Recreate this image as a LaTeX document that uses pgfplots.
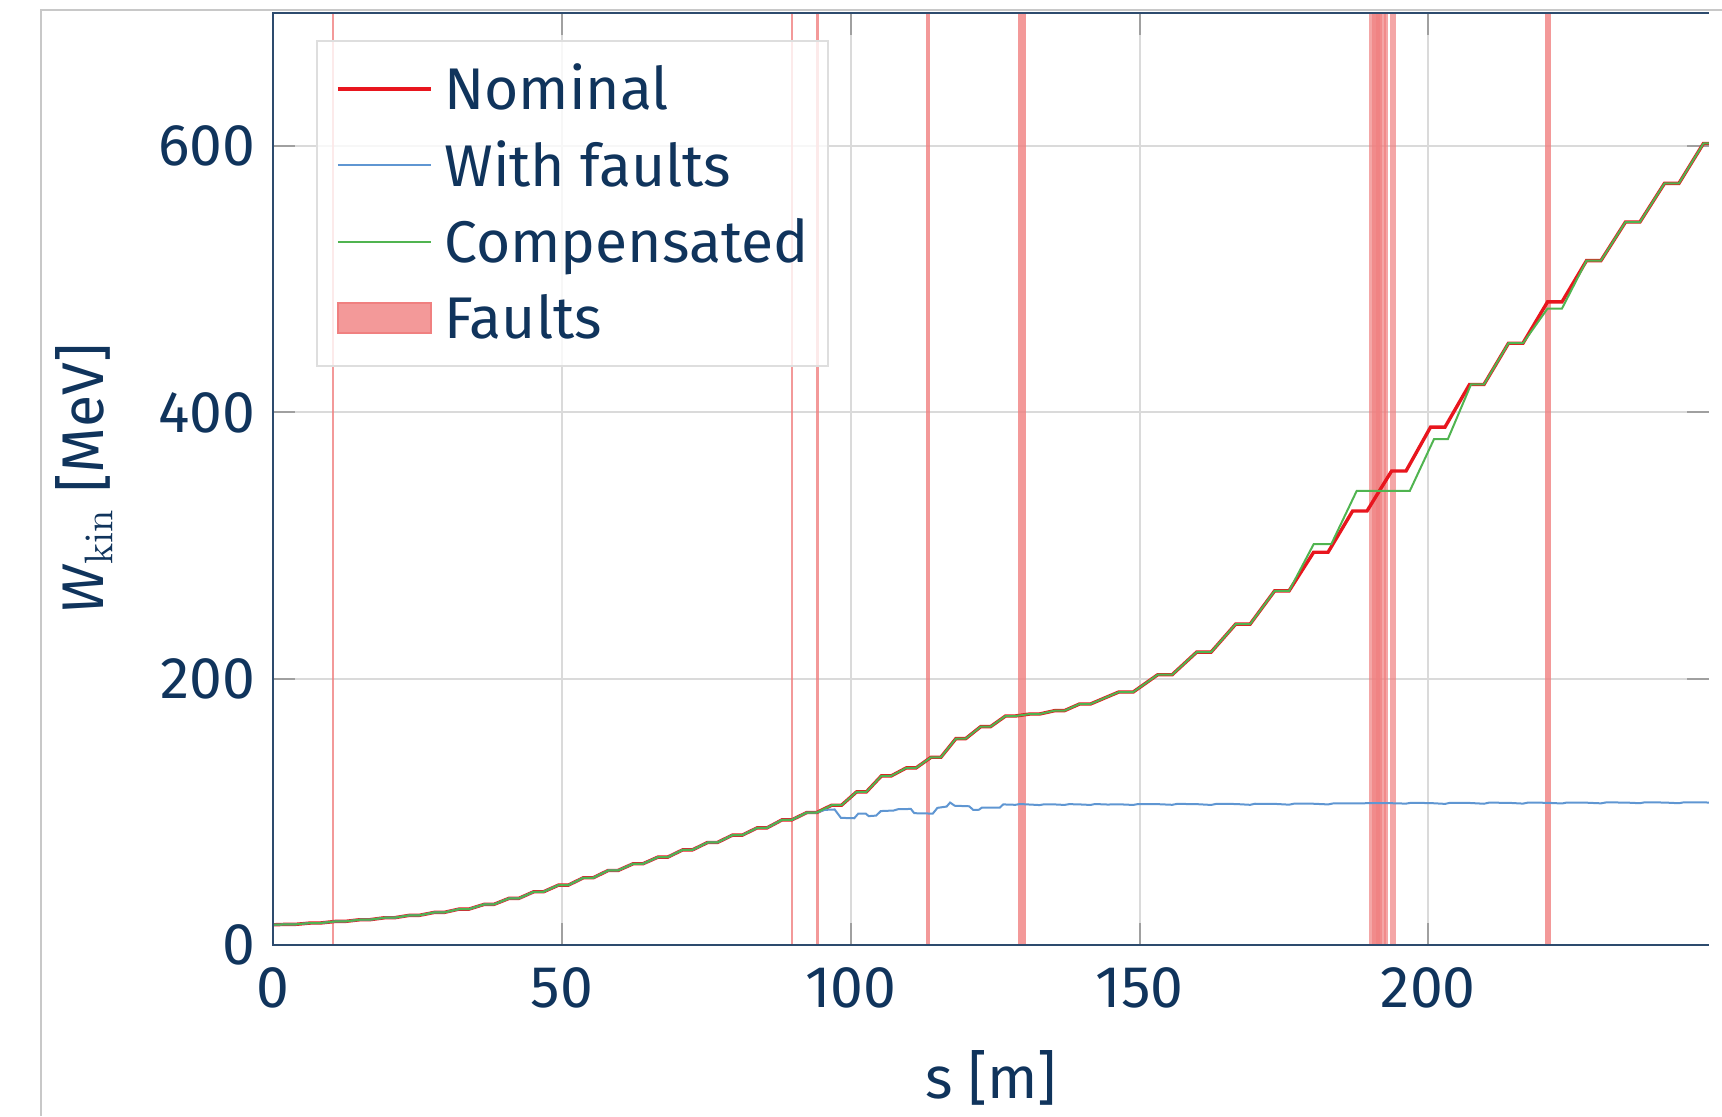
\documentclass[border=0pt]{standalone}
\usepackage[no-math]{fontspec}
\setmainfont{Fira Sans}
\usepackage{pgfplots}
\pgfplotsset{compat=1.18}

\definecolor{navy}{RGB}{16,52,92}
\definecolor{axisc}{RGB}{45,75,110}
\definecolor{gridc}{RGB}{218,218,218}
\definecolor{tickc}{RGB}{160,160,160}
\definecolor{legc}{RGB}{222,222,222}
\definecolor{framec}{RGB}{200,200,200}
\definecolor{nomc}{RGB}{232,22,30}
\definecolor{withc}{RGB}{95,150,210}
\definecolor{compc}{RGB}{80,180,80}
\definecolor{faultc}{RGB}{240,128,128}

\begin{document}
\begin{tikzpicture}
\begin{axis}[
name=ax, at={(0,0)}, anchor=south west,
scale only axis, width=358.9pt, height=233pt,
xmin=0, xmax=248.6, ymin=0, ymax=700,
xtick={0,50,100,150,200}, ytick={0,200,400,600},
axis line style={draw=none},
grid=major, major grid style={draw=gridc, line width=0.5pt},
major tick length=5.5pt, tick align=inside,
tick style={draw=tickc, line width=0.5pt},
/pgf/number format/assume math mode=true,
tick label style={font=\fontsize{14.7}{17}\selectfont, text=navy},
xticklabel style={yshift=-2.1pt},
yticklabel style={xshift=-1.0pt},
label style={font=\fontsize{14.7}{17}\selectfont, text=navy},
xlabel={s [m]},
ylabel={\textit{W}$_{\mathrm{kin}}$ [MeV]},
xlabel style={at={(axis description cs:0.5,-0.1421)}, anchor=center},
ylabel style={at={(axis description cs:-0.1318,0.5)}, anchor=center},
legend cell align=left,
legend style={at={(0.0295,0.9708)}, anchor=north west,
  draw=legc, line width=0.5pt, fill=white, fill opacity=0.8, text opacity=1,
  inner xsep=4.9pt, inner ysep=6.7pt, row sep=8.7pt,
  font=\fontsize{14.7}{17}\selectfont, text=navy,
  nodes={inner sep=0pt, text height=10.4pt, text depth=0pt}},
legend image code/.code={\draw[#1] (0pt,0pt) -- (23.3pt,0pt); \path (26.2pt,0pt);},
]

% faults
\addplot[forget plot, draw=none, fill=faultc, fill opacity=0.8] coordinates {(10.15,0)(10.15,700)(10.45,700)(10.45,0)} -- cycle;
\addplot[forget plot, draw=none, fill=faultc, fill opacity=0.8] coordinates {(89.65,0)(89.65,700)(89.95,700)(89.95,0)} -- cycle;
\addplot[forget plot, draw=none, fill=faultc, fill opacity=0.8] coordinates {(93.95,0)(93.95,700)(94.45,700)(94.45,0)} -- cycle;
\addplot[forget plot, draw=none, fill=faultc, fill opacity=0.8] coordinates {(112.95,0)(112.95,700)(113.65,700)(113.65,0)} -- cycle;
\addplot[forget plot, draw=none, fill=faultc, fill opacity=0.8] coordinates {(129.0,0)(129.0,700)(130.4,700)(130.4,0)} -- cycle;
\addplot[forget plot, draw=none, fill=faultc, fill opacity=0.7] coordinates {(189.7,0)(189.7,700)(191.6,700)(191.6,0)} -- cycle;
\addplot[forget plot, draw=none, fill=faultc, fill opacity=0.7] coordinates {(190.3,0)(190.3,700)(192.0,700)(192.0,0)} -- cycle;
\addplot[forget plot, draw=none, fill=faultc, fill opacity=0.7] coordinates {(191.0,0)(191.0,700)(192.6,700)(192.6,0)} -- cycle;
\addplot[forget plot, draw=none, fill=faultc, fill opacity=0.7] coordinates {(192.4,0)(192.4,700)(193.1,700)(193.1,0)} -- cycle;
\addplot[forget plot, draw=none, fill=faultc, fill opacity=0.7] coordinates {(193.3,0)(193.3,700)(194.4,700)(194.4,0)} -- cycle;
\addplot[forget plot, draw=none, fill=faultc, fill opacity=0.8] coordinates {(220.3,0)(220.3,700)(221.3,700)(221.3,0)} -- cycle;

% nominal
\addplot[nomc, line width=0.85pt] coordinates {
(0,15.2)(2.1,15.5)(3.8,15.5)(6.4,16.5)(8.1,16.5)(10.7,17.7)(12.4,17.7)
(15.0,19.0)(16.7,19.0)(19.3,20.5)(21.0,20.5)(23.6,22.3)(25.3,22.3)
(27.9,24.5)(29.6,24.5)(32.2,27.0)(33.9,27.0)(36.5,30.5)(38.2,30.5)
(40.8,35.0)(42.5,35.0)(45.1,40.0)(46.8,40.0)(49.4,45.0)(51.1,45.0)
(53.7,50.5)(55.4,50.5)(58.0,56.0)(59.7,56.0)(62.3,61.0)(64.0,61.0)
(66.6,66.0)(68.3,66.0)(70.9,71.5)(72.6,71.5)(75.2,77.0)(76.9,77.0)
(79.5,82.5)(81.2,82.5)(83.8,88.0)(85.5,88.0)(88.1,94.0)(89.8,94.0)
(92.4,99.5)(94.1,99.5)(96.7,105.0)(98.4,105.0)(101.0,115.0)(102.7,115.0)
(105.3,127.0)(107.0,127.0)(109.6,133.0)(111.3,133.0)(113.9,141.0)(115.6,141.0)
(118.2,155.0)(119.9,155.0)(122.5,164.0)(124.2,164.0)(126.8,172.0)(128.5,172.0)
(131.0,173.5)(132.7,173.5)(135.3,176.0)(137.0,176.0)(139.6,181.0)(141.5,181.0)
(146.4,190)(148.9,190)(153.15,203)(155.65,203)(159.9,220)(162.4,220)
(166.65,241)(169.15,241)(173.4,266)(175.9,266)(180.15,295)(182.65,295)
(186.9,326)(189.4,326)(193.65,356)(196.15,356)(200.4,389)(202.9,389)
(207.15,421)(209.65,421)(213.9,452)(216.4,452)(220.65,483)(223.15,483)
(227.4,514)(229.9,514)(234.15,543)(236.65,543)(240.9,572)(243.4,572)
(247.65,602)(248.6,602)
};

% with faults
\addplot[withc, line width=0.5pt] coordinates {
(0,15.2)(2.1,15.5)(3.8,15.5)(6.4,16.5)(8.1,16.5)(10.7,17.7)(12.4,17.7)
(15.0,19.0)(16.7,19.0)(19.3,20.5)(21.0,20.5)(23.6,22.3)(25.3,22.3)
(27.9,24.5)(29.6,24.5)(32.2,27.0)(33.9,27.0)(36.5,30.5)(38.2,30.5)
(40.8,35.0)(42.5,35.0)(45.1,40.0)(46.8,40.0)(49.4,45.0)(51.1,45.0)
(53.7,50.5)(55.4,50.5)(58.0,56.0)(59.7,56.0)(62.3,61.0)(64.0,61.0)
(66.6,66.0)(68.3,66.0)(70.9,71.5)(72.6,71.5)(75.2,77.0)(76.9,77.0)
(79.5,82.5)(81.2,82.5)(83.8,88.0)(85.5,88.0)(88.1,94.0)(89.8,94.0)
(92.4,99.5)(94.1,99.5)
(95.5,101.5)(97.2,101.8)(98.3,95.5)(100.6,95.2)(101.3,98.7)(102.6,98.7)
(103.1,96.8)(104.4,97.2)(105.2,100.6)(107.4,101.0)(108.2,102.0)(110.4,102.2)
(111.0,99.0)(114.2,98.7)(115.0,103.0)(116.6,104.0)(117.2,107.0)(118.0,104.6)
(120.5,104.2)(121.2,101.5)(122.2,101.6)(122.7,103.2)(125.8,103.2)
(126.4,105.6)(128.5,105.3)(129.3,105.9)(131.0,105.5)(132.7,105.1)(133.5,105.7)
(135.3,105.6)(137.0,105.2)(137.8,105.8)(139.6,105.6)(141.5,105.2)(142.3,105.9)
(144.5,105.5)(146.4,105.7)(148.9,105.2)(149.8,105.9)(153.15,105.8)(155.65,105.3)
(156.5,106.0)(159.9,105.8)(162.4,105.2)(163.3,106.0)(166.65,105.9)(169.15,105.3)
(170.0,106.1)(173.4,106.0)(175.9,105.4)(176.8,106.2)(180.15,106.1)(182.65,105.6)
(183.5,106.3)(186.9,106.3)(189.4,106.5)(193.65,106.5)(196.15,106.2)(197.0,106.8)
(200.4,106.6)(202.9,106.0)(203.8,106.8)(207.15,106.7)(209.65,106.1)(210.5,106.9)
(213.9,106.8)(216.4,106.2)(217.3,107.0)(220.65,106.8)(223.15,106.3)(224.0,107.0)
(227.4,106.9)(229.9,106.4)(230.8,107.1)(234.15,107.0)(236.65,106.5)(237.5,107.2)
(240.9,107.0)(243.4,106.5)(244.3,107.2)(247.65,107.1)(248.6,107.0)
};

% compensated
\addplot[compc, line width=0.5pt] coordinates {
(0,15.2)(2.1,15.5)(3.8,15.5)(6.4,16.5)(8.1,16.5)(10.7,17.7)(12.4,17.7)
(15.0,19.0)(16.7,19.0)(19.3,20.5)(21.0,20.5)(23.6,22.3)(25.3,22.3)
(27.9,24.5)(29.6,24.5)(32.2,27.0)(33.9,27.0)(36.5,30.5)(38.2,30.5)
(40.8,35.0)(42.5,35.0)(45.1,40.0)(46.8,40.0)(49.4,45.0)(51.1,45.0)
(53.7,50.5)(55.4,50.5)(58.0,56.0)(59.7,56.0)(62.3,61.0)(64.0,61.0)
(66.6,66.0)(68.3,66.0)(70.9,71.5)(72.6,71.5)(75.2,77.0)(76.9,77.0)
(79.5,82.5)(81.2,82.5)(83.8,88.0)(85.5,88.0)(88.1,94.0)(89.8,94.0)
(92.4,99.5)(94.1,99.5)(96.7,105.0)(98.4,105.0)(101.0,115.0)(102.7,115.0)
(105.3,127.0)(107.0,127.0)(109.6,133.0)(111.3,133.0)(113.9,141.0)(115.6,141.0)
(118.2,155.0)(119.9,155.0)(122.5,164.0)(124.2,164.0)(126.8,172.0)(128.5,172.0)
(131.0,173.5)(132.7,173.5)(135.3,176.0)(137.0,176.0)(139.6,181.0)(141.5,181.0)
(146.4,190)(148.9,190)(153.15,203)(155.65,203)(159.9,220)(162.4,220)
(166.65,241)(169.15,241)(173.4,266)(175.9,266)(180.15,301)(183.2,301)
(187.6,341)(196.8,341)(201.0,380)(203.4,380)(207.4,421)(209.65,421)
(213.9,452)(216.4,452)(220.65,478)(223.15,478)
(227.4,514)(229.9,514)(234.15,543)(236.65,543)(240.9,572)(243.4,572)
(247.65,602)(248.6,602)
};

\addlegendimage{legend image code/.code={\fill[faultc, fill opacity=0.8] (0pt,-3.7pt) rectangle (23.3pt,3.7pt); \path (26.2pt,0pt);}}
\legend{Nominal,With faults,Compensated\hspace{1.8pt},Faults}
\end{axis}

\draw[axisc, line width=0.5pt] (ax.north east) -- (ax.north west) -- (ax.south west) -- (ax.south east);
\draw[framec, line width=0.5pt] (-58.1pt,-42.75pt) -- (-58.1pt,233.75pt) -- (362.2pt,233.75pt);

\pgfresetboundingbox
\useasboundingbox (-68.325pt,-42.75pt) rectangle (362.175pt,236.25pt);
\end{tikzpicture}
\end{document}
